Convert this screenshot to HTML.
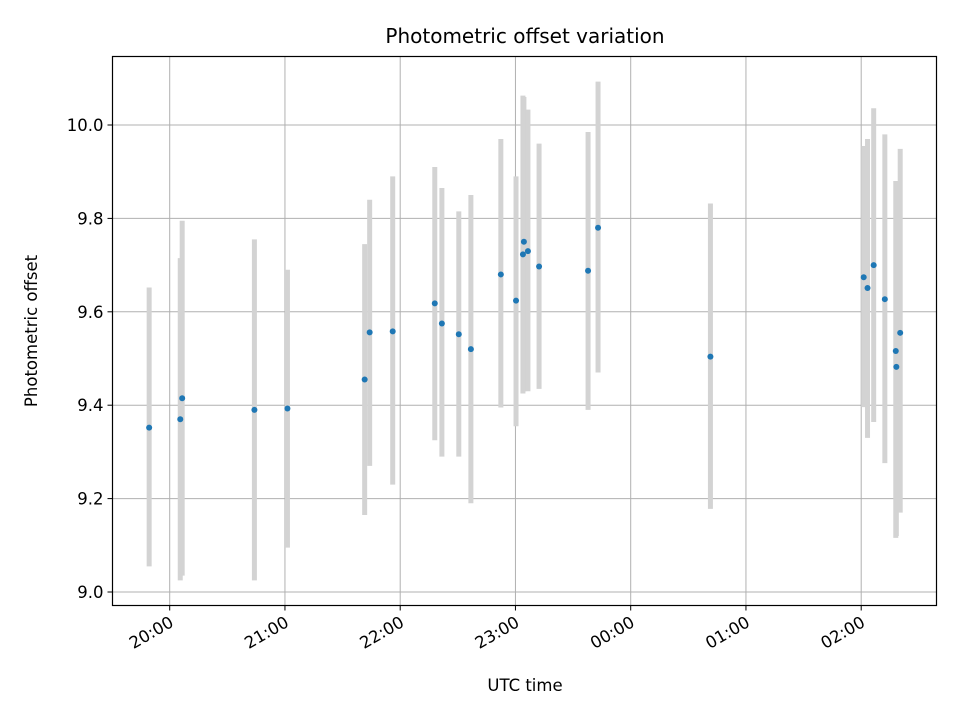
<!DOCTYPE html>
<html><head><meta charset="utf-8"><style>
body{margin:0;background:#fff}
svg text{font-family:"DejaVu Sans","Liberation Sans",sans-serif;fill:#000}
.tk{font-size:16.5px}
.ttl{font-size:20px}
.lab{font-size:16.5px}
</style></head><body>
<svg id="chart" width="960" height="720" viewBox="0 0 960 720" xmlns="http://www.w3.org/2000/svg">
<rect x="0" y="0" width="960" height="720" fill="#fff"/>
<text class="ttl" x="525" y="43" text-anchor="middle">Photometric offset variation</text>
<g id="grid"></g><g id="bars"></g><g id="pts"></g><g id="ticks"></g>
<rect x="112.5" y="56.5" width="824" height="549" fill="none" stroke="#000" stroke-width="1.2"/>
<text class="lab" x="525" y="691" text-anchor="middle">UTC time</text>
<text class="lab" x="37" y="331" text-anchor="middle" transform="rotate(-90 37 331)">Photometric offset</text>
</svg>
<script>
// minutes since 20:00 UTC
const times=[-10.7,5.5,6.5,44.1,61.3,101.5,104.1,116.1,138,141.7,150.5,156.8,172.4,180.3,183.9,184.4,186.5,192.3,217.8,223,281.5,361.3,363.3,366.5,372.3,378,378.3,380.3];
const values=[9.352,9.37,9.415,9.39,9.393,9.455,9.556,9.558,9.618,9.575,9.552,9.52,9.68,9.624,9.723,9.75,9.73,9.697,9.688,9.78,9.504,9.674,9.651,9.70,9.627,9.516,9.482,9.555];
const lows=[9.055,9.025,9.035,9.025,9.095,9.165,9.27,9.23,9.325,9.29,9.29,9.19,9.395,9.355,9.425,9.43,9.43,9.435,9.39,9.47,9.178,9.396,9.33,9.364,9.276,9.116,9.12,9.17];
const highs=[9.652,9.715,9.795,9.755,9.69,9.745,9.84,9.89,9.91,9.865,9.815,9.85,9.97,9.89,10.063,10.06,10.033,9.96,9.985,10.093,9.832,9.955,9.97,10.036,9.98,9.88,9.88,9.949];
const yTicks=[9.0,9.2,9.4,9.6,9.8,10.0];
const xTickMins=[0,60,120,180,240,300,360];
const xTickLabels=["20:00","21:00","22:00","23:00","00:00","01:00","02:00"];
const NS="http://www.w3.org/2000/svg";
const L=112.5,R=936.5,T=56.5,B=605.5;
function xs(m){return 169.7+m*115.25/60;}
function ys(v){return 592-(v-9)*467;}
function mk(tag,attrs,parent){const e=document.createElementNS(NS,tag);for(const k in attrs)e.setAttribute(k,attrs[k]);document.getElementById(parent).appendChild(e);return e;}
yTicks.forEach((v,i)=>{
 const y=ys(v);
 const g=mk('line',{x1:L,x2:R,y1:y,y2:y,stroke:'#b0b0b0','stroke-width':1},'grid');
 
 
 const t=mk('line',{x1:L-5,x2:L,y1:y,y2:y,stroke:'#000','stroke-width':1},'ticks');
 
 
 const tx=mk('text',{x:L-9,y:y+6,'class':'tk','text-anchor':'end'},'ticks');
 tx.textContent=v.toFixed(1);
 
 
});
xTickMins.forEach((m,i)=>{
 const x=xs(m);
 const g=mk('line',{x1:x,x2:x,y1:T,y2:B,stroke:'#b0b0b0','stroke-width':1},'grid');
 
 
 const t=mk('line',{x1:x,x2:x,y1:B,y2:B+5,stroke:'#000','stroke-width':1},'ticks');
 
 
 const tx=mk('text',{x:x+5,y:B+20,'class':'tk','text-anchor':'end',transform:`rotate(-30 ${x+5} ${B+20})`},'ticks');
 tx.textContent=xTickLabels[i];
 
 
});
times.forEach((m,i)=>{
 const x=xs(m);
 const b=mk('line',{x1:x,x2:x,y1:ys(highs[i]),y2:ys(lows[i]),stroke:'#d3d3d3','stroke-width':5},'bars');
 
 
 const p=mk('circle',{cx:x,cy:ys(values[i]),r:3,fill:'#1f77b4'},'pts');
 
 
});
</script>
</body></html>
